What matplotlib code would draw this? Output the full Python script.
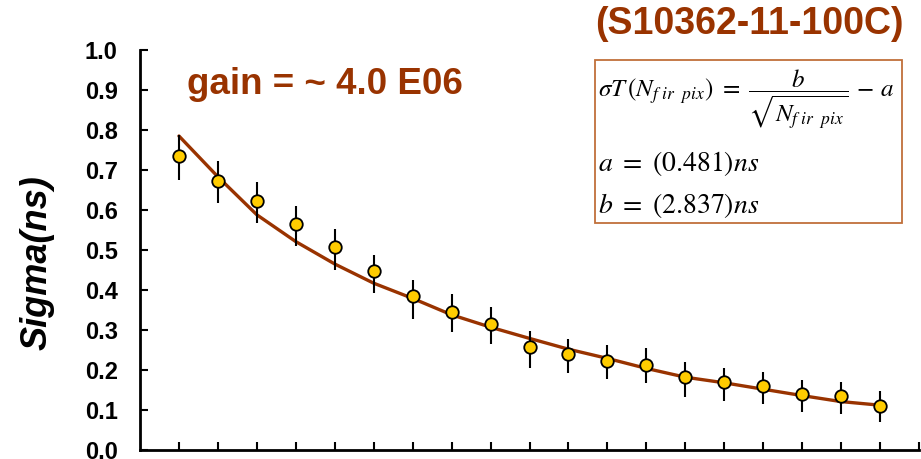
import matplotlib
matplotlib.use("Agg")
import matplotlib.pyplot as plt
from matplotlib.patches import Rectangle

# Measured timing resolution per photoelectron step
steps = list(range(1, 20))
sigma = [0.736, 0.672, 0.623, 0.565, 0.507, 0.448, 0.385, 0.346, 0.315, 0.257,
         0.239, 0.223, 0.213, 0.183, 0.170, 0.159, 0.140, 0.135, 0.111]
err_low = [0.061, 0.055, 0.055, 0.055, 0.056, 0.056, 0.057, 0.052, 0.050, 0.051,
           0.047, 0.046, 0.046, 0.050, 0.047, 0.045, 0.046, 0.046, 0.042]
err_high = [0.051, 0.050, 0.046, 0.045, 0.046, 0.040, 0.040, 0.045, 0.042, 0.040,
            0.038, 0.040, 0.041, 0.036, 0.034, 0.037, 0.035, 0.036, 0.036]
# Fitted curve sigma = b/sqrt(N) - a evaluated at each step
fit = [0.785, 0.683, 0.588, 0.521, 0.465, 0.417, 0.379, 0.338, 0.307, 0.279,
       0.252, 0.229, 0.204, 0.182, 0.168, 0.152, 0.136, 0.121, 0.112]

y_ticks = [0.0, 0.1, 0.2, 0.3, 0.4, 0.5, 0.6, 0.7, 0.8, 0.9, 1.0]
x_ticks = list(range(1, 21))

BROWN = "#993300"
GOLD = "#FFCC00"

plt.rcParams["font.family"] = ["Liberation Sans", "DejaVu Sans"]
plt.rcParams["mathtext.fontset"] = "stix"

fig = plt.figure(figsize=(9.21, 4.59), dpi=100)
ax = fig.add_axes([140 / 921, 9 / 459, 779 / 921, 400 / 459])

ax.plot(steps, fit, color=BROWN, lw=2.4, zorder=2, solid_capstyle="round")
ax.errorbar(steps, sigma, yerr=[err_low, err_high], fmt="none",
            ecolor="black", elinewidth=1.5, capsize=0, zorder=3)
ax.plot(steps, sigma, "o", ms=9, mfc=GOLD, mec="black", mew=1.3, zorder=4)

ax.set_xlim(0, 20)
ax.set_ylim(0, 1.0)
ax.set_xticks(x_ticks)
ax.set_xticklabels([])
ax.set_yticks(y_ticks)
ax.set_yticklabels([f"{v:.1f}" for v in y_ticks], fontsize=17, fontweight="bold")
ax.tick_params(axis="both", direction="in", length=6, width=1.5, pad=16)
for side in ("top", "right"):
    ax.spines[side].set_visible(False)
for side in ("left", "bottom"):
    ax.spines[side].set_linewidth(2)

fig.text(37 / 921, 1 - 263 / 459, "Sigma(ns)", fontsize=26, fontweight="bold",
         style="italic", rotation=90, ha="center", va="center")

fig.text(749 / 921, 1 - 24 / 459, "(S10362-11-100C)", color=BROWN,
         fontsize=27, fontweight="bold", ha="center", va="center")
fig.text(187 / 921, 1 - 84 / 459, "gain = ~ 4.0 E06", color=BROWN,
         fontsize=26.5, fontweight="bold", ha="left", va="center")

# Fit formula box
fig.patches.append(Rectangle((595 / 921, 1 - 223 / 459), 307 / 921, 163 / 459,
                             transform=fig.transFigure, fill=False,
                             edgecolor="#C0703A", lw=1.3))
fig.text(598 / 921, 1 - 100 / 459,
         r"$\sigma T\,(N_{f\ ir\ \ pix})\ =\ \dfrac{b}{\sqrt{N_{f\ ir\ \ pix}}}\,-\,a$",
         fontsize=18, ha="left", va="center")
fig.text(598 / 921, 1 - 164 / 459, r"$a\ =\ (0.481)ns$", fontsize=20,
         ha="left", va="center")
fig.text(598 / 921, 1 - 205 / 459, r"$b\ =\ (2.837)ns$", fontsize=20,
         ha="left", va="center")

fig.savefig("out.png", dpi=100)
